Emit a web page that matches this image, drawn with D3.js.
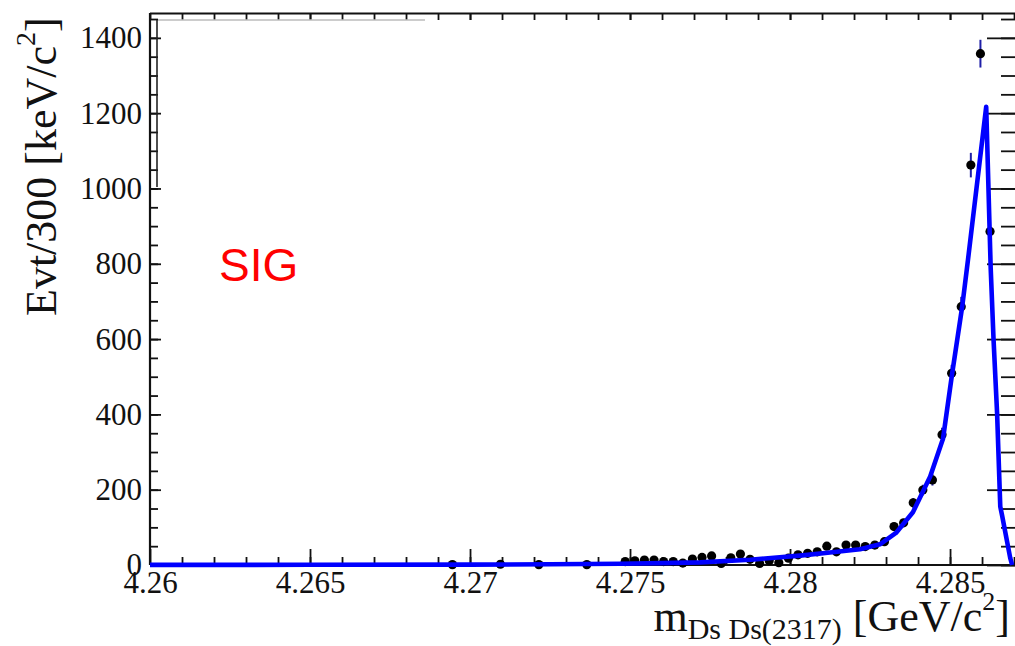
<!DOCTYPE html>
<html>
<head>
<meta charset="utf-8">
<script src="https://cdn.jsdelivr.net/npm/d3@7"></script>
<style>
  html, body { margin: 0; padding: 0; background: #fff; }
  svg { display: block; }
  .serif { font-family: "Liberation Serif", "DejaVu Serif", serif; }
</style>
</head>
<body>
<svg id="chart" width="1015" height="646"></svg>
<script>
// Binned data: bin centres (GeV/c^2) and entries per 300 keV/c^2 (empty bins omitted)
const binMass = [
  4.26945, 4.27095, 4.27215, 4.27365,
  4.27485, 4.27515, 4.27545, 4.27575, 4.27605, 4.27635, 4.27665, 4.27695,
  4.27725, 4.27755, 4.27785, 4.27815, 4.27845, 4.27875, 4.27905, 4.27935,
  4.27965, 4.27995, 4.28025, 4.28055, 4.28085, 4.28115, 4.28145, 4.28175,
  4.28205, 4.28235, 4.28265, 4.28295, 4.28325, 4.28355, 4.28385, 4.28415,
  4.28445, 4.28475, 4.28505, 4.28535, 4.28565, 4.28595, 4.28625
];
const binCounts = [
  1, 2, 1, 1,
  9, 11, 13, 13, 9, 9, 5, 16,
  20, 24, 4, 19, 29, 15, 4, 11,
  6, 18, 27, 31, 35, 50, 35, 53,
  53, 49, 53, 62, 102, 112, 165, 199,
  226, 346, 509, 686, 1062, 1358, 886
];

// Fitted signal shape, sampled along the mass axis
const fitMass = [
  4.26000, 4.26500, 4.27000, 4.27250, 4.27470, 4.27600, 4.27719, 4.27875,
  4.28031, 4.28125, 4.28219, 4.28281, 4.28331, 4.28384, 4.28438, 4.28478,
  4.28506, 4.28538, 4.28556, 4.28613, 4.28627, 4.28636, 4.28647, 4.28657,
  4.28663, 4.28688, 4.28694
];
const fitYield = [
  0.3, 0.5, 1.0, 2.0, 3.5, 5, 7, 14,
  25, 33, 42, 55, 85, 140, 235, 335,
  505, 686, 810, 1217, 789, 598, 404, 155,
  130, 19, 0
];

// Axis ticks and labels
const xMajorTicks = [4.26, 4.265, 4.27, 4.275, 4.28, 4.285];
const xTickLabels = ["4.26", "4.265", "4.27", "4.275", "4.28", "4.285"];
const yMajorTicks = [0, 200, 400, 600, 800, 1000, 1200, 1400];
const yTickLabels = ["0", "200", "400", "600", "800", "1000", "1200", "1400"];

const svg = d3.select("#chart");
svg.append("rect").attr("width", 1015).attr("height", 646).attr("fill", "#fff");

const padL = 150, padR = 1015, padT = 13, padB = 565;
const x = d3.scaleLinear().domain([4.26, 4.28703]).range([padL, padR]);
const y = d3.scaleLinear().domain([0, 1466]).range([padB, padT]);

const xMinorTicks = d3.range(1, 28).map(i => +(4.26 + i * 0.001).toFixed(3));
const yMinorTicks = d3.range(0, 1451, 50);

function tickLayer(axis, tx, ty) {
  const g = svg.append("g").attr("transform", `translate(${tx},${ty})`).call(axis);
  g.select(".domain").remove();
  g.selectAll(".tick line").attr("stroke", "#111").attr("stroke-width", 1.8);
  return g;
}

// bottom axis ticks (pointing up)
tickLayer(d3.axisTop(x).tickValues(xMinorTicks).tickSize(8).tickFormat(""), 0, padB);
tickLayer(d3.axisTop(x).tickValues(xMajorTicks).tickSize(16).tickFormat(""), 0, padB);
// top axis ticks (pointing down)
tickLayer(d3.axisBottom(x).tickValues(xMinorTicks.concat(xMajorTicks)).tickSize(7).tickFormat(""), 0, padT);
// left axis ticks (pointing right)
tickLayer(d3.axisRight(y).tickValues(yMinorTicks).tickSize(8).tickFormat(""), padL, 0);
tickLayer(d3.axisRight(y).tickValues(yMajorTicks).tickSize(11).tickFormat(""), padL, 0);
// right axis ticks (pointing left)
tickLayer(d3.axisLeft(y).tickValues(yMinorTicks).tickSize(14).tickFormat(""), padR, 0);
tickLayer(d3.axisLeft(y).tickValues(yMajorTicks).tickSize(28).tickFormat(""), padR, 0);

// tick labels
const xLab = svg.append("g").attr("transform", `translate(0,${padB})`)
  .call(d3.axisBottom(x).tickValues(xMajorTicks).tickSize(0).tickPadding(6)
    .tickFormat((d, i) => xTickLabels[i]));
xLab.select(".domain").remove();
xLab.selectAll("text").attr("class", "serif").attr("font-size", 31).attr("fill", "#111");

const yLab = svg.append("g").attr("transform", `translate(${padL},0)`)
  .call(d3.axisLeft(y).tickValues(yMajorTicks).tickSize(0).tickPadding(8)
    .tickFormat((d, i) => yTickLabels[i]));
yLab.select(".domain").remove();
yLab.selectAll("text").attr("class", "serif").attr("font-size", 31).attr("fill", "#111");

// frame
const frame = svg.append("g").attr("stroke", "#111").attr("stroke-width", 2.2).attr("fill", "none");
frame.append("line").attr("x1", padL).attr("x2", padR).attr("y1", padT + 0.5).attr("y2", padT + 0.5);
frame.append("line").attr("x1", padL).attr("x2", padL).attr("y1", padT).attr("y2", padB);
frame.append("line").attr("x1", padL).attr("x2", padR).attr("y1", padB).attr("y2", padB);
// inner pad border in the upper-left corner
svg.append("line").attr("x1", padL + 7).attr("x2", padL + 7).attr("y1", padT + 7).attr("y2", 187)
  .attr("stroke", "#222").attr("stroke-width", 1.6);
svg.append("line").attr("x1", padL + 8).attr("x2", 425).attr("y1", padT + 7).attr("y2", padT + 7)
  .attr("stroke", "#bbb").attr("stroke-width", 1.5);

// data points with Poisson errors
const pts = binMass.map((m, i) => ({ m, n: binCounts[i] }));
svg.append("g").selectAll("line").data(pts).join("line")
  .attr("x1", d => x(d.m)).attr("x2", d => x(d.m))
  .attr("y1", d => y(d.n + Math.sqrt(d.n))).attr("y2", d => y(Math.max(0, d.n - Math.sqrt(d.n))))
  .attr("stroke", "#1f1fa8").attr("stroke-width", 2);
svg.append("g").selectAll("circle").data(pts).join("circle")
  .attr("cx", d => x(d.m)).attr("cy", d => y(d.n)).attr("r", 4.6).attr("fill", "#000");

// fit curve
const fit = fitMass.map((m, i) => [m, fitYield[i]]);
svg.append("path").datum(fit)
  .attr("d", d3.line().x(d => x(d[0])).y(d => y(d[1])))
  .attr("fill", "none").attr("stroke", "#0000ff").attr("stroke-width", 4.6)
  .attr("stroke-linejoin", "round");

// axis titles
const yt = svg.append("text").attr("class", "serif").attr("font-size", 44).attr("fill", "#111")
  .attr("transform", "translate(56,316) rotate(-90)").attr("text-anchor", "start");
yt.append("tspan").text("Evt/300 [keV/c");
yt.append("tspan").attr("font-size", 28).attr("dy", -21).text("2");
yt.append("tspan").attr("dy", 21).text("]");

const xt = svg.append("text").attr("class", "serif").attr("font-size", 44).attr("fill", "#111")
  .attr("x", 1010).attr("y", 631).attr("text-anchor", "end");
xt.append("tspan").text("m");
xt.append("tspan").attr("font-size", 30).attr("dy", 8).text("Ds Ds(2317)");
xt.append("tspan").attr("dy", -8).text(" [GeV/c");
xt.append("tspan").attr("font-size", 26).attr("dy", -21).text("2");
xt.append("tspan").attr("dy", 21).text("]");

// label
svg.append("text").attr("x", 219).attr("y", 281)
  .attr("font-family", "'Liberation Sans', Arial, sans-serif").attr("font-size", 46)
  .attr("fill", "#ff0000").text("SIG");
</script>
</body>
</html>
